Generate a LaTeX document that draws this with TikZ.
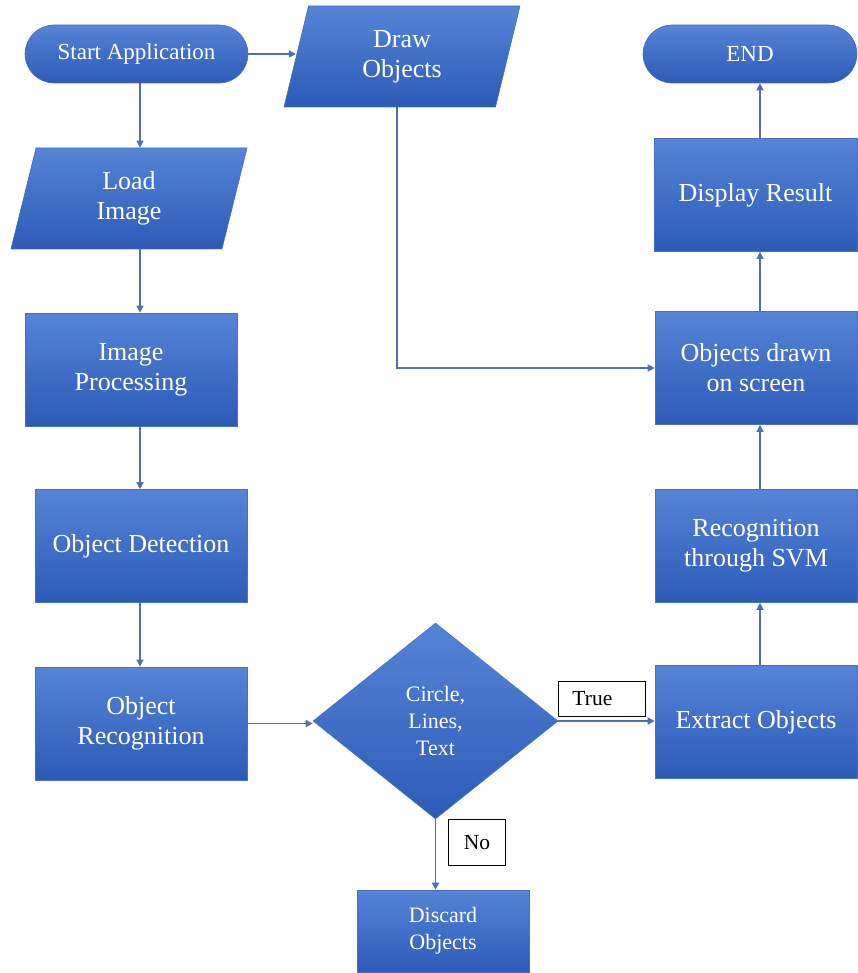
\documentclass[tikz,border=0pt]{standalone}
\usepackage{fontspec}
\setmainfont{Liberation Serif}
\usetikzlibrary{shapes.geometric,arrows.meta,calc}

\definecolor{boxtop}{RGB}{86,132,214}
\definecolor{boxbot}{RGB}{45,90,182}
\definecolor{boxedge}{RGB}{70,112,196}
\definecolor{linkcol}{RGB}{80,110,176}

\tikzset{
  shaded/.style={top color=boxtop, bottom color=boxbot, draw=boxedge, line width=0.6pt,
                 text=white, align=center, inner sep=0pt},
  bigtext/.style={font=\fontsize{26}{30}\selectfont},
  midtext/.style={font=\fontsize{22}{27}\selectfont},
  procbox/.style={shaded, bigtext, rectangle, minimum width=212pt, minimum height=113pt},
  pill/.style={shaded, font=\fontsize{23}{27}\selectfont, rectangle, rounded corners=29pt, minimum height=58pt},
  iobox/.style={shaded, bigtext, trapezium, trapezium left angle=65, trapezium right angle=115,
                trapezium stretches body, minimum width=236pt, minimum height=101pt},
  decision/.style={shaded, midtext, diamond, aspect=1.25, minimum width=245pt, minimum height=196pt},
  tag/.style={draw=black, line width=0.9pt, fill=white, text=black,
              font=\fontsize{21.5}{25}\selectfont, inner sep=0pt, minimum height=35pt},
  link/.style={draw=linkcol, line width=1.4pt, -{Triangle[length=7pt,width=7pt]}}
}

\begin{document}
\begin{tikzpicture}[x=1pt,y=-1pt]
  \useasboundingbox (0,0) rectangle (858,973);
  \clip (0,0) rectangle (858,973);

  % guide columns for the vertical connectors
  \coordinate (lc) at (140,0);
  \coordinate (rc) at (760,0);
  \coordinate (dc) at (397,0);

  % terminals
  \node[pill, minimum width=223pt] (start) at (136.5,54) {Start Application};
  \node[pill, minimum width=214pt] (stop) at (750,54) {END};

  % input / output
  \node[iobox] (drawobj) at (402,56.5) {Draw\\Objects};
  \node[iobox] (load) at (129,198.5) {Load\\Image};

  % left column
  \node[procbox] (improc) at (131,369.5) {Image\\Processing};
  \node[procbox] (detect) at (141,546) {Object Detection};
  \node[procbox] (recog) at (141,723.5) {Object\\Recognition};

  % decision
  \node[decision] (dec) at (435.5,721) {Circle,\\Lines,\\Text};

  % right column
  \node[procbox, minimum width=203pt] (display) at (755.5,195) {Display Result};
  \node[procbox, minimum width=202pt] (drawn) at (756,368) {Objects drawn\\on screen};
  \node[procbox, minimum width=202pt] (svm) at (756,546) {Recognition\\through SVM};
  \node[procbox, minimum width=202pt] (extract) at (756,722) {Extract Objects};

  % rejected branch
  \node[shaded, midtext, rectangle, minimum width=172pt, minimum height=82pt] (discard) at (443,931) {Discard\\Objects};

  % connectors
  \draw[link] (start.south -| lc) -- (load.north -| lc);
  \draw[link] (start.east) -- (start.east -| drawobj.west);
  \draw[link] (load.south -| lc) -- (improc.north -| lc);
  \draw[link] (improc.south -| lc) -- (detect.north -| lc);
  \draw[link] (detect.south -| lc) -- (recog.north -| lc);
  \draw[link] (recog.east) -- (recog.east -| dec.west);
  \draw[link] (dec.east) -- (dec.east -| extract.west);
  \draw[link] (dec.south) -- (dec.south |- discard.north);
  \draw[link] (extract.north -| rc) -- (svm.south -| rc);
  \draw[link] (svm.north -| rc) -- (drawn.south -| rc);
  \draw[link] (drawn.north -| rc) -- (display.south -| rc);
  \draw[link] (display.north -| rc) -- (stop.south -| rc);
  \draw[link] (drawobj.south -| dc) |- (drawn.west);

  % branch labels
  \node[tag, anchor=south west, minimum width=87pt, text width=59pt, inner xsep=14pt, align=left]
    (truelbl) at (558,717) {True};
  \node[tag, anchor=north west, minimum width=57pt, minimum height=46pt] (nolbl) at (448,819) {No};
\end{tikzpicture}
\end{document}
